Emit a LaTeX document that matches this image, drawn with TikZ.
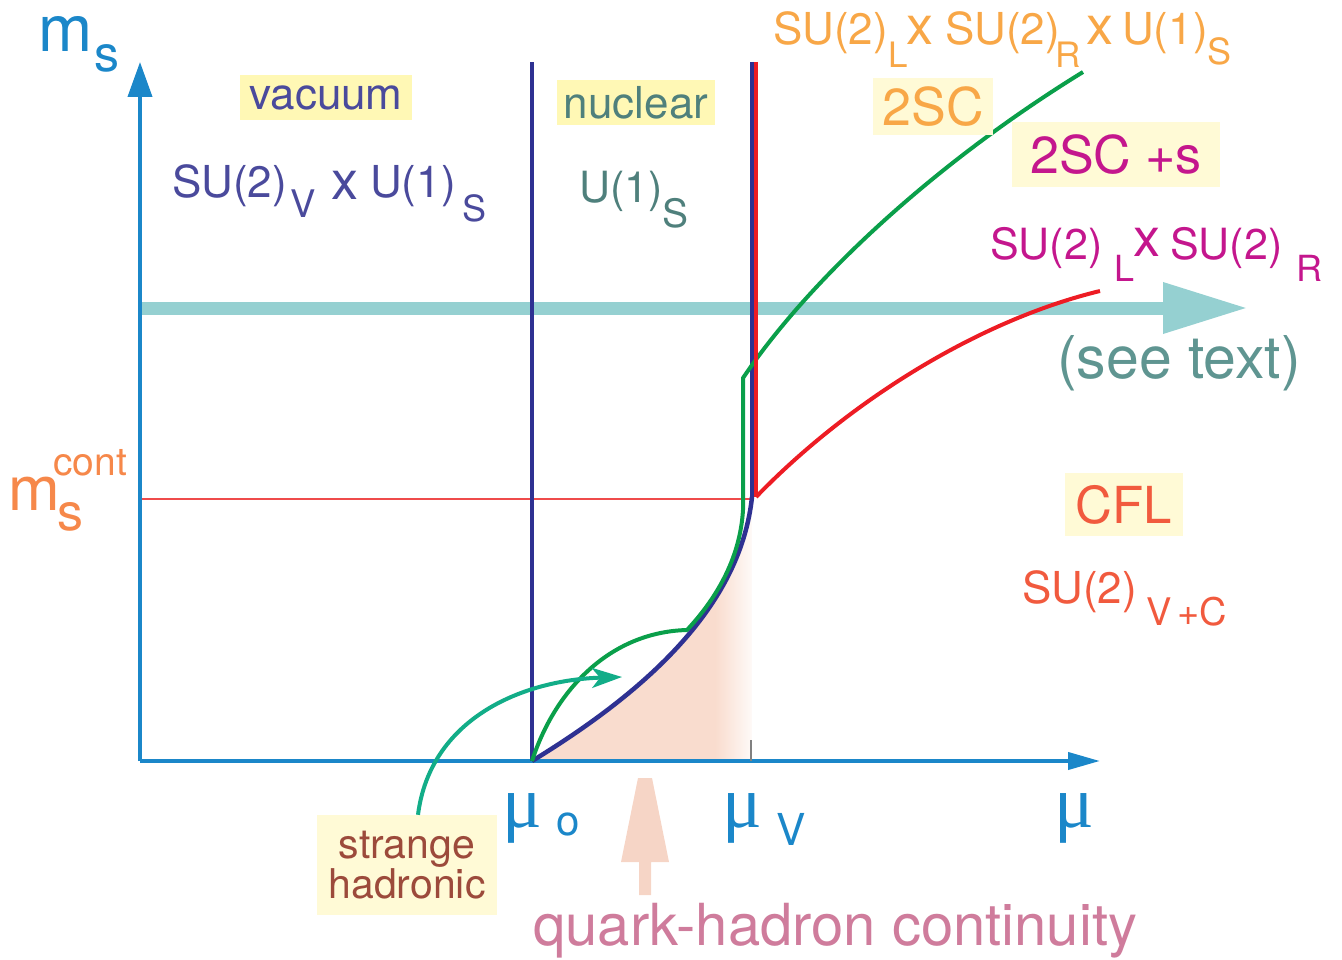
\documentclass[tikz,border=0pt]{standalone}
\usepackage{fontspec}
\setmainfont{TeX Gyre Heros}
\newfontfamily\mufont{Liberation Serif}
\usetikzlibrary{arrows.meta}
\definecolor{axisblue}{HTML}{1B87C9}
\definecolor{navy}{HTML}{2E3192}
\definecolor{linered}{HTML}{ED1C24}
\definecolor{thinred}{HTML}{EF4B4B}
\definecolor{lgreen}{HTML}{0A9F4A}
\definecolor{tealarrow}{HTML}{12AD88}
\definecolor{tealbar}{HTML}{95D0D1}
\definecolor{peach}{HTML}{F9DCCE}
\definecolor{peacharrow}{HTML}{F6D5C6}
\definecolor{boxyellow}{HTML}{FFF8B5}
\definecolor{paleyellow}{HTML}{FFFAD6}
\definecolor{vactext}{HTML}{4A4A9C}
\definecolor{nuctext}{HTML}{4F807C}
\definecolor{orangetext}{HTML}{F8A747}
\definecolor{magentatext}{HTML}{C4168D}
\definecolor{cfltext}{HTML}{F15A3E}
\definecolor{msconttext}{HTML}{F6884A}
\definecolor{seetext}{HTML}{5F9591}
\definecolor{shtext}{HTML}{9C4A3B}
\definecolor{qhpink}{HTML}{CF7C9C}
\newcommand{\fsz}[1]{\fontsize{#1}{#1}\selectfont}
\begin{document}
\begin{tikzpicture}[x=1pt,y=-1pt,
  txt/.style={inner sep=0pt, anchor=base west},
  ybox/.style={fill=boxyellow, inner sep=0pt, align=center},
  pbox/.style={fill=paleyellow, inner sep=0pt, align=center},
  axisline/.style={draw=axisblue, line width=4pt},
  dline/.style={draw=navy, line width=4.5pt},
  gline/.style={draw=lgreen, line width=4pt, line join=round},
  rline/.style={draw=linered, line width=4pt},
  tline/.style={draw=tealarrow, line width=4pt},
  crossx/.style={txt, font=\fontsize{54}{54}\selectfont}]
\useasboundingbox (0,0) rectangle (1342,960);

% key coordinates
\coordinate (orig) at (140,761);
\coordinate (ytop) at (140,62);
\coordinate (xend) at (1100,761);
\coordinate (mu0) at (532,761);
\coordinate (mu0top) at (532,62);
\coordinate (cvtop) at (752,497);
\coordinate (hend) at (752,499);
\coordinate (vtop) at (752,62);
\coordinate (rtop) at (756,62);
\coordinate (rcorner) at (756,497);
\coordinate (rend) at (1100,291);
\coordinate (gend) at (1083,72);
\coordinate (barstart) at (140,308);
\coordinate (barend) at (1248,308);
\coordinate (hstart) at (140,499);
\coordinate (tickb) at (751,761);
\coordinate (tickt) at (751,740);
\coordinate (ttip) at (622,677);

% shaded continuity region
\begin{scope}
  \clip (mu0) .. controls (640,695) and (740,610) .. (cvtop) -- (752,761) -- cycle;
  \fill[peach] (530,490) rectangle (716,765);
  \shade[left color=peach, right color=peach!15] (715,490) rectangle (752,765);
\end{scope}

% thick teal arrow
\draw[draw=tealbar, line width=13pt, -{Triangle[length=85pt,width=48pt]}] (barstart) -- (barend);

% thin red line at m_s^cont
\draw[draw=thinred, line width=2pt] (hstart) -- (hend);

% axes
\draw[axisline, -{Triangle[length=35pt,width=24pt]}] (orig) -- (ytop);
\draw[axisline, -{Triangle[length=32pt,width=17pt]}] (orig) -- (xend);

% tick
\draw[draw=gray, line width=1.5pt] (tickb) -- (tickt);

% navy boundaries
\draw[dline] (mu0) -- (mu0top);
\draw[dline] (vtop) -- (cvtop);
\draw[dline] (cvtop) .. controls (740,610) and (640,695) .. (mu0);

% green boundary
\draw[gline] (mu0) .. controls (555,690) and (610,632) .. (687,630)
  .. controls (715,600) and (740,560) .. (743,510) -- (743,378) -- (752,365)
  .. controls (820,270) and (940,160) .. (gend);

% red boundary
\draw[rline] (rtop) -- (rcorner);
\draw[rline] (rcorner) .. controls (850,400) and (980,320) .. (rend);

% peach up arrow
\fill[peacharrow] (639,895) -- (639,862) -- (621,862) -- (638,778) -- (652,778) -- (669,862) -- (651,862) -- (651,895) -- cycle;

% boxes
\node[ybox, minimum width=172pt, minimum height=45pt, text=vactext] (vac) at (326,97.5) {\fsz{44}vacuum};
\node[ybox, minimum width=158pt, minimum height=45pt, text=nuctext] (nuc) at (636,102.5) {\fsz{44}nuclear};
\node[pbox, minimum width=120pt, minimum height=57pt, text=orangetext] (tsc) at (933,106.5) {\fsz{52}2SC};
\node[pbox, minimum width=208pt, minimum height=65pt, text=magentatext] (tscs) at (1116,154.5) {\fsz{52}2SC\hspace{14pt}+s};
\node[pbox, minimum width=118pt, minimum height=63pt, text=cfltext] (cfl) at (1124,504.5) {\fsz{51}CFL};
\node[pbox, minimum width=180pt, minimum height=100pt, text=shtext, font=\fontsize{41}{40}\selectfont] (sh) at (407,865) {strange\\hadronic};

% teal curved arrow from strange hadronic
\draw[tline, -{Stealth[length=30pt,width=20pt,inset=8pt]}] ([xshift=11pt]sh.north) .. controls (430,720) and (520,680) .. (ttip);

% axis labels
\node[txt, text=axisblue] (msm) at (38,52) {\fsz{65}m};
\node[txt, text=axisblue] (mss) at (94,72) {\fsz{50}s};
\node[txt, text=msconttext] (mcm) at (8,510) {\fsz{62}m};
\node[txt, text=msconttext] (mcc) at (53,475) {\fsz{39}cont};
\node[txt, text=msconttext] (mcs) at (57,530) {\fsz{52}s};

\node[txt, text=axisblue] (muo) at (502,827) {\fsz{74}\mufont μ};
\node[txt, text=axisblue] (muos) at (556,835) {\fsz{42}o};
\node[txt, text=axisblue] (muv) at (722,827) {\fsz{74}\mufont μ};
\node[txt, text=axisblue] (muvs) at (776,845) {\fsz{44}V};
\node[txt, text=axisblue] (mux) at (1054,827) {\fsz{74}\mufont μ};

% vacuum symmetry
\node[txt, text=vactext] (v1) at (172,198) {\fsz{44}SU(2)};
\node[txt, text=vactext] (v2) at (290,218) {\fsz{38}V};
\node[crossx, text=vactext] (v3) at (331,200) {x};
\node[txt, text=vactext] (v4) at (370,198) {\fsz{44}U(1)};
\node[txt, text=vactext] (v5) at (462,222) {\fsz{36}S};

% nuclear symmetry
\node[txt, text=nuctext] (n1) at (579,203) {\fsz{43}U(1)};
\node[txt, text=nuctext] (n2) at (662,228) {\fsz{39}S};

% 2SC symmetry
\node[txt, text=orangetext] (o1) at (773,45) {\fsz{44}SU(2)};
\node[txt, text=orangetext] (o2) at (888,68) {\fsz{35}L};
\node[crossx, text=orangetext] (o3) at (906,45) {x};
\node[txt, text=orangetext] (o4) at (945,45) {\fsz{44}SU(2)};
\node[txt, text=orangetext] (o5) at (1055,68) {\fsz{35}R};
\node[crossx, text=orangetext] (o6) at (1086,45) {x};
\node[txt, text=orangetext] (o7) at (1122,45) {\fsz{44}U(1)};
\node[txt, text=orangetext] (o8) at (1207,65) {\fsz{36}S};

% 2SC+s symmetry
\node[txt, text=magentatext] (m1) at (990,260) {\fsz{43}SU(2)};
\node[txt, text=magentatext] (m2) at (1114,281) {\fsz{36}L};
\node[crossx, text=magentatext] (m3) at (1133,257) {x};
\node[txt, text=magentatext] (m4) at (1170,260) {\fsz{43}SU(2)};
\node[txt, text=magentatext] (m5) at (1296,282) {\fsz{36}R};

% CFL symmetry
\node[txt, text=cfltext] (c1) at (1022,603) {\fsz{44}SU(2)};
\node[txt, text=cfltext] (c2) at (1146,625) {\fsz{38}V\hspace{6pt}+C};

% other labels
\node[txt, text=seetext] (see) at (1057,378) {\fsz{59}(see text)};
\node[txt, text=qhpink] (qh) at (533,945) {\fsz{58}quark-hadron continuity};
\end{tikzpicture}
\end{document}
